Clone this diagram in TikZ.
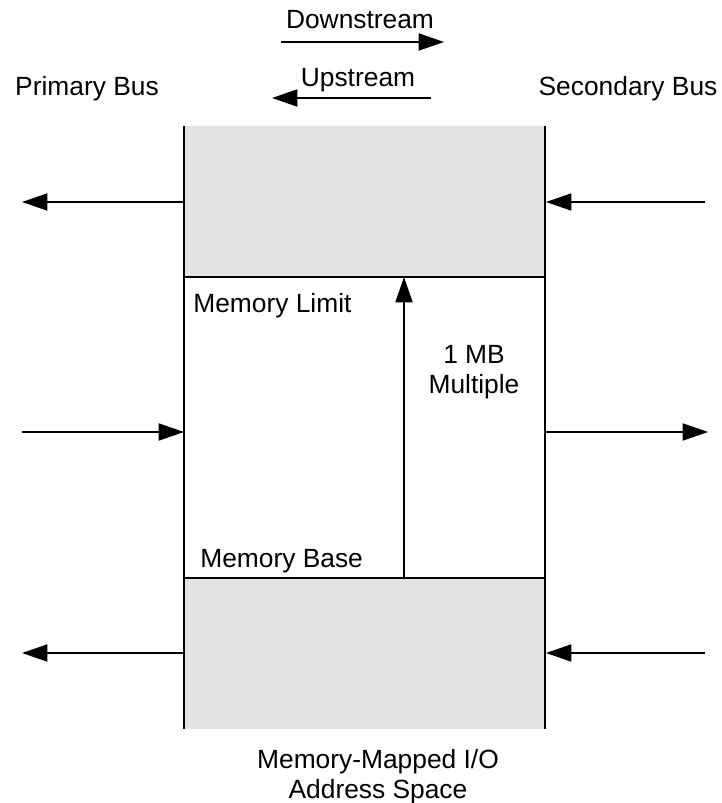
\documentclass[tikz,border=0pt]{standalone}
\usepackage{fontspec}
\setmainfont{Liberation Sans}
\usetikzlibrary{arrows.meta}

\tikzset{
    flow/.style={-{Triangle[length=14.5pt,width=9.8pt]}, line width=0.8pt},
    wall/.style={line width=1.2pt},
    lbl/.style={anchor=base, inner sep=0pt, font=\fontsize{15}{18}\selectfont},
}

\begin{document}
\begin{tikzpicture}[x=0.02cm, y=-0.02cm]
    \useasboundingbox (0,0) rectangle (722,803);

    % Corners of the address space
    \coordinate (topL) at (184,126);
    \coordinate (topR) at (545,126);
    \coordinate (limL) at (184,277);
    \coordinate (limR) at (545,277);
    \coordinate (baseL) at (184,578);
    \coordinate (baseR) at (545,578);
    \coordinate (botL) at (184,729);
    \coordinate (botR) at (545,729);

    % Grey regions above the limit and below the base
    \fill[black!11] (topL) rectangle (limR);
    \fill[black!11] (baseL) rectangle (botR);

    % Walls and the limit / base lines
    \draw[wall] (topL) -- (botL);
    \draw[wall] (topR) -- (botR);
    \draw[wall] (limL) -- (limR);
    \draw[wall] (baseL) -- (baseR);

    % Direction legend
    \node[lbl] (down) at (360,29) {Downstream};
    \node[lbl] (up) at (358,87) {Upstream};
    \coordinate (downA) at (281,42);
    \coordinate (downB) at (444,42);
    \coordinate (upA) at (431,98);
    \coordinate (upB) at (272,98);
    \draw[flow] (downA) -- (downB);
    \draw[flow] (upA) -- (upB);

    % Bus labels
    \node[lbl] (prim) at (87,96) {Primary Bus};
    \node[lbl] (sec) at (628,96) {Secondary Bus};

    % Primary side
    \coordinate (p1) at (22,202);
    \coordinate (p2) at (22,432);
    \coordinate (p3) at (22,653);
    \coordinate (wl1) at (184,202);
    \coordinate (wl2) at (184,432);
    \coordinate (wl3) at (184,653);
    \draw[flow] (wl1) -- (p1);
    \draw[flow] (p2) -- (wl2);
    \draw[flow] (wl3) -- (p3);

    % Secondary side
    \coordinate (s1) at (705,202);
    \coordinate (s2) at (708,432);
    \coordinate (s3) at (705,653);
    \coordinate (wr1) at (546,202);
    \coordinate (wr2) at (546,432);
    \coordinate (wr3) at (546,653);
    \draw[flow] (s1) -- (wr1);
    \draw[flow] (wr2) -- (s2);
    \draw[flow] (s3) -- (wr3);

    % Window size
    \coordinate (winB) at (404,578);
    \coordinate (winT) at (404,277);
    \draw[flow] (winB) -- (winT);
    \node[lbl, anchor=base west] (limit) at (193,313) {Memory Limit};
    \node[lbl, anchor=base west] (base) at (200,567) {Memory Base};
    \node[lbl] (mbA) at (474,363) {1 MB};
    \node[lbl] (mbB) at (474,393) {Multiple};

    % Caption
    \node[lbl] (capA) at (378,768) {Memory-Mapped I/O};
    \node[lbl] (capB) at (378,798) {Address Space};
\end{tikzpicture}
\end{document}
